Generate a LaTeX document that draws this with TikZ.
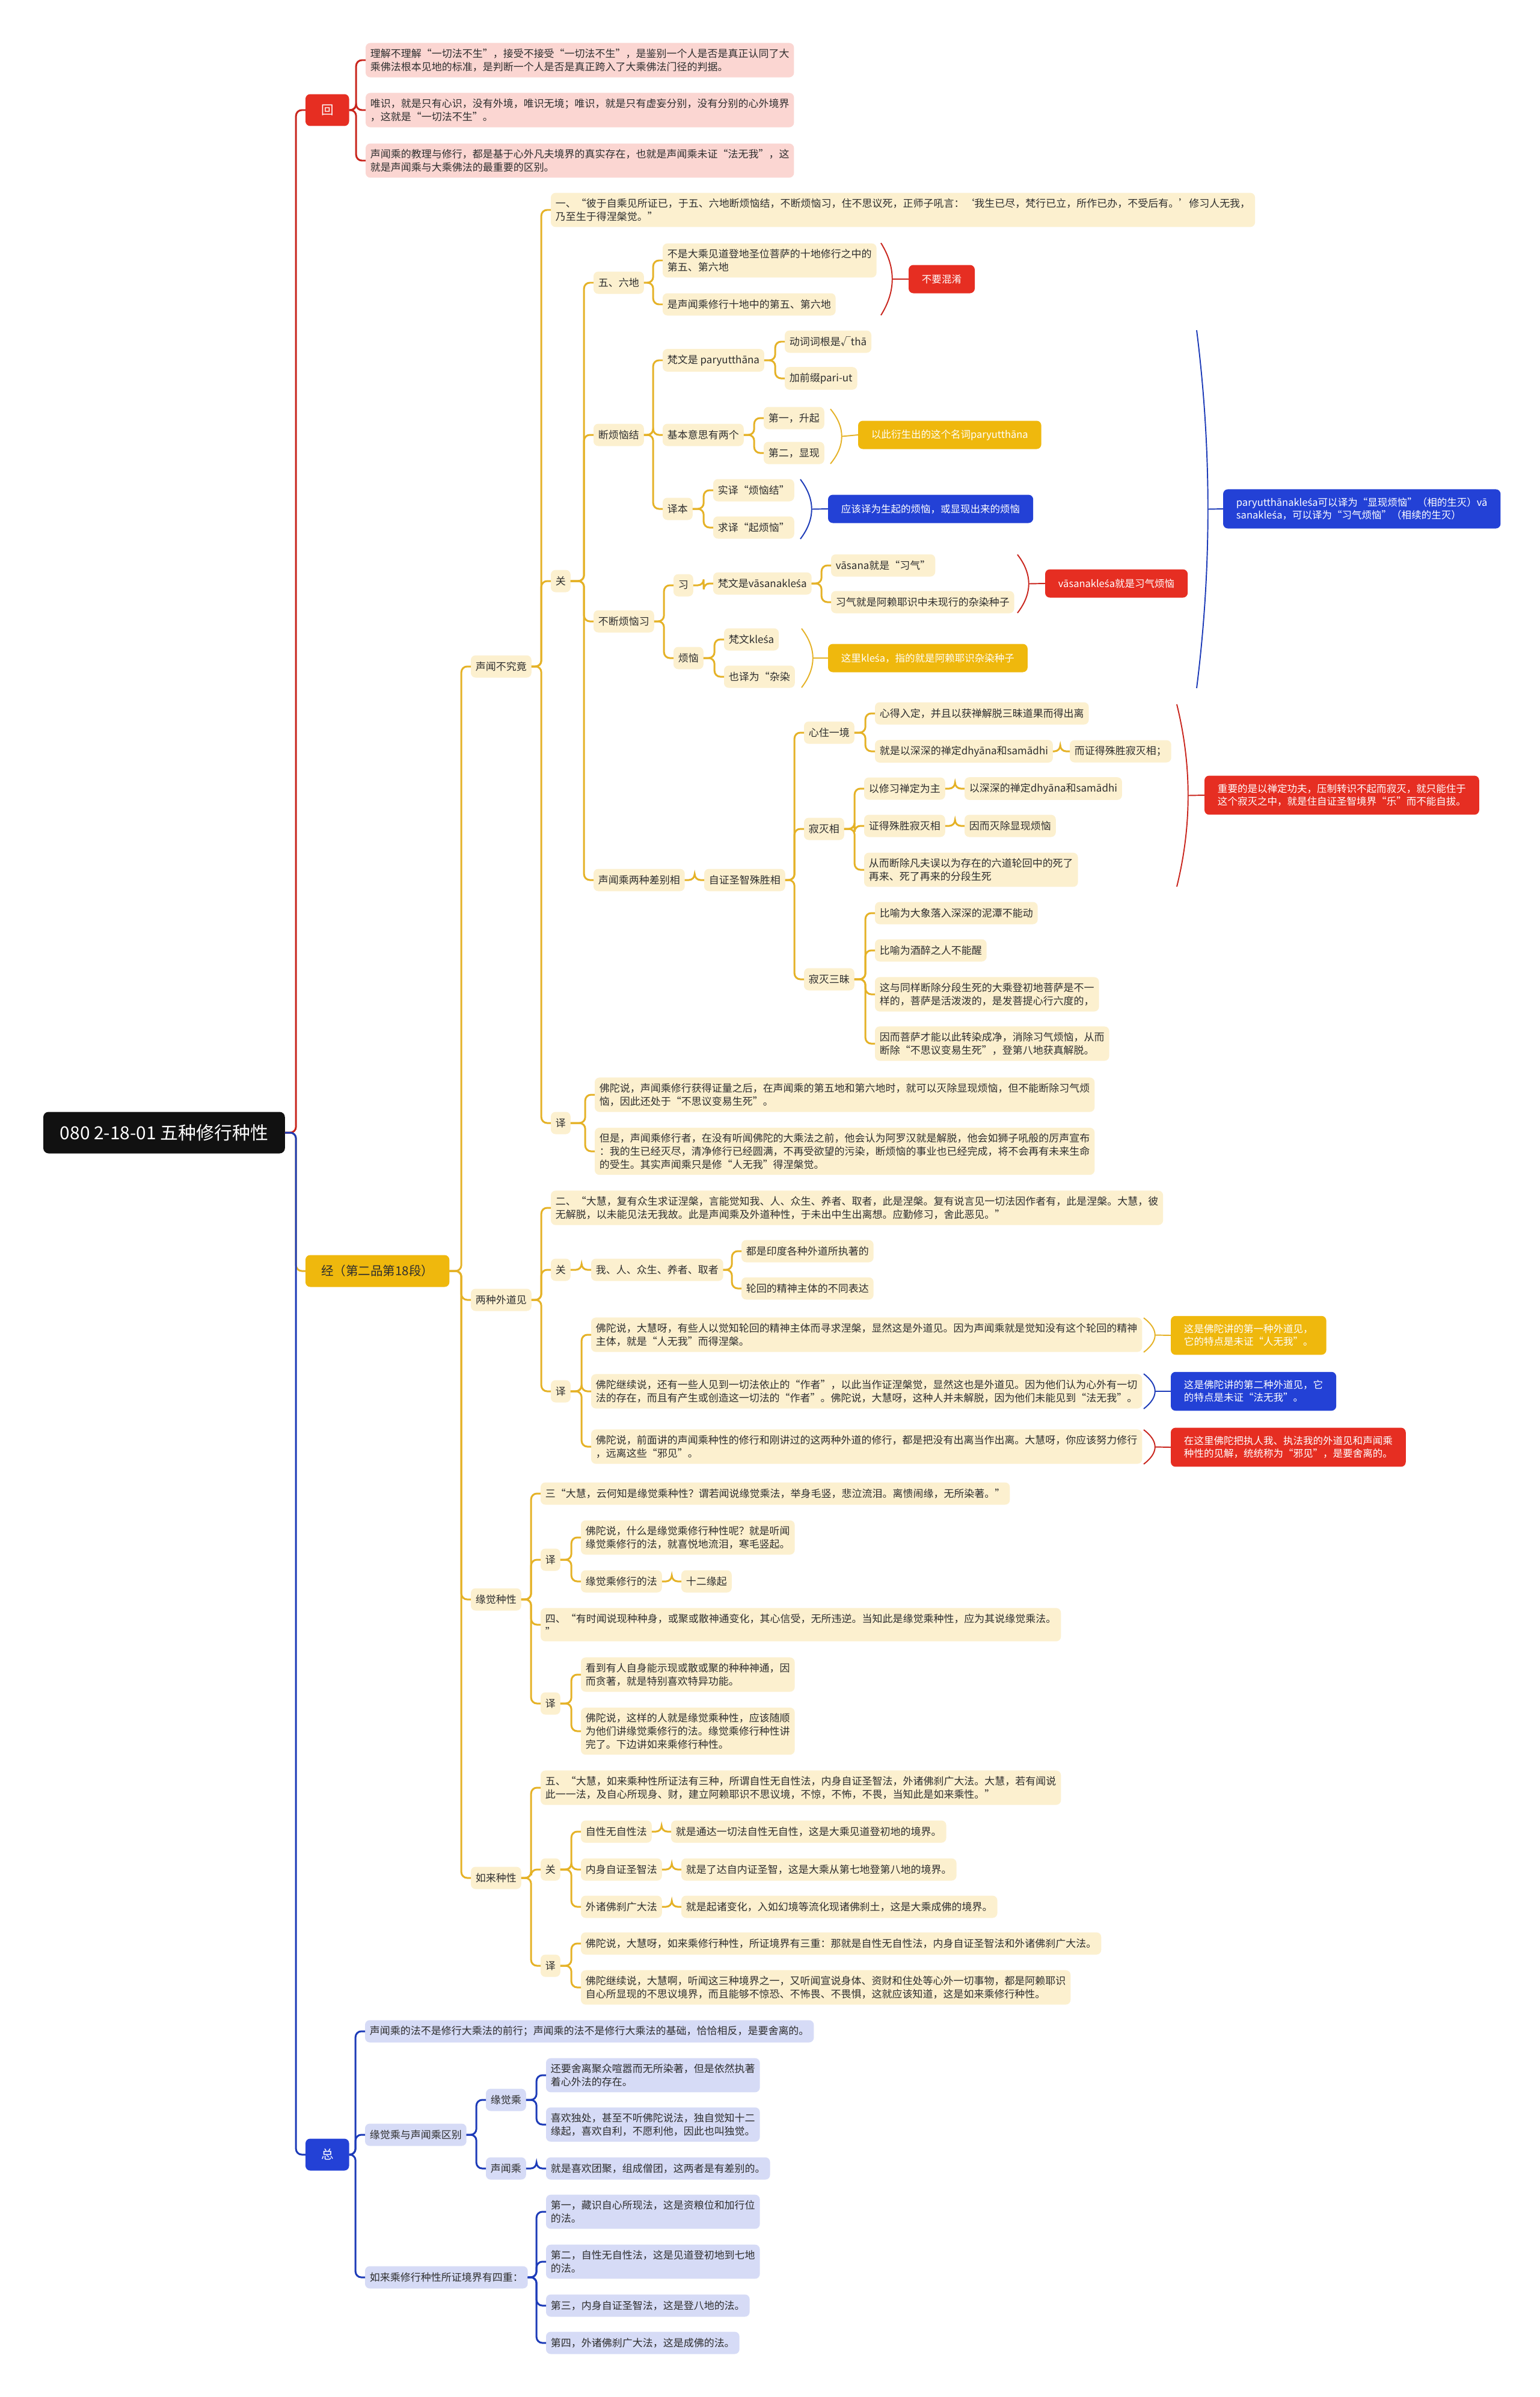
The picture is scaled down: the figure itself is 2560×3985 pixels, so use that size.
\documentclass[tikz,border=0pt]{standalone}
\usepackage{fontspec}
\setmainfont{Noto Sans CJK SC}
\newfontfamily\latinfont{Noto Sans}
\newcommand{\sac}{{\latinfont ś}}
\usetikzlibrary{calc}
\definecolor{croot}{HTML}{111111}
\definecolor{cred}{HTML}{E62E22}
\definecolor{cyel}{HTML}{EFB80D}
\definecolor{cblue}{HTML}{2341D6}
\definecolor{cpink}{HTML}{FBD6D2}
\definecolor{cleaf}{HTML}{FCF0CF}
\definecolor{clav}{HTML}{D6DBF6}
\definecolor{lred}{HTML}{C9261E}
\definecolor{lyel}{HTML}{E5B227}
\definecolor{lblue}{HTML}{1D3BB8}
\definecolor{ctext}{HTML}{2E2E2E}
\tikzset{
  every node/.style={outer sep=0pt},
  root/.style={fill=croot, text=white, rounded corners=5pt, anchor=west, inner xsep=15.9pt, minimum height=1.38cm, font=\fontsize{17}{19}\selectfont},
  head/.style={fill=#1, text=white, rounded corners=4.5pt, anchor=west, inner xsep=14.8pt, minimum height=1.06cm, font=\fontsize{11.7}{14}\selectfont},
  item/.style={fill=#1, text=ctext, rounded corners=4.5pt, anchor=west, align=left, inner xsep=4.5pt, inner ysep=5.5pt, minimum height=0.74cm, font=\fontsize{9.67}{12.3}\selectfont},
  item/.default=cleaf,
  tag/.style={fill=#1, text=white, rounded corners=4.5pt, anchor=west, align=left, inner xsep=12.5pt, inner ysep=8pt, minimum height=0.94cm, font=\fontsize{9.4}{12}\selectfont},
  link/.style={draw=#1, line width=1.7pt, rounded corners=5.5pt},
  brc/.style={draw=#1, line width=1.1pt},
}
% parent to children, bent at the parent's side
\newcommand{\branchto}[3]{\foreach \c in {#3} \draw[link=#1] (#2.east) -| ([xshift=-9pt]\c.west) -- (\c.west);}
% summary brace: colour, x, top, bottom, target
\newcommand{\grpbrace}[5]{%
  \draw[brc=#1] (#2,#3) .. controls +(25,{(#4-#3)/3}) and +(25,{-(#4-#3)/3}) .. (#2,#4);
  \draw[brc=#1] ({#2+19},{(#3+#4)/2}) -- (#5.west);}

\begin{document}
\begin{tikzpicture}[x=0.02cm, y=-0.02cm]
  \fill[white] (0,0) rectangle (2560,3985);
  \useasboundingbox (0,0) rectangle (2560,3985);
  % root and main topics
  \node[root] (root) at (72,1883) {080 2-18-01 五种修行种性};
  \node[head=cred] (hui) at (508,183) {回};
  \node[head=cyel, text=ctext] (jing) at (508,2113) {经（第二品第18段）};
  \node[head=cblue] (zong) at (508,3582) {总};
  % 回
  \node[item=cpink] (r1) at (608,100) {理解不理解“一切法不生”，接受不接受“一切法不生”，是鉴别一个人是否是真正认同了大\\乘佛法根本见地的标准，是判断一个人是否是真正跨入了大乘佛法门径的判据。};
  \node[item=cpink] (r2) at (608,183) {唯识，就是只有心识，没有外境，唯识无境；唯识，就是只有虚妄分别，没有分别的心外境界\\，这就是“一切法不生”。};
  \node[item=cpink] (r3) at (608,267) {声闻乘的教理与修行，都是基于心外凡夫境界的真实存在，也就是声闻乘未证“法无我”，这\\就是声闻乘与大乘佛法的最重要的区别。};
  % 经
  \node[item] (s1) at (783,1108) {声闻不究竟};
  \node[item] (s2) at (783,2161) {两种外道见};
  \node[item] (s3) at (783,2659) {缘觉种性};
  \node[item] (s4) at (783,3122) {如来种性};
  % 声闻不究竟
  \node[item] (q1) at (916,349) {一、“彼于自乘见所证已，于五、六地断烦恼结，不断烦恼习，住不思议死，正师子吼言：‘我生已尽，梵行已立，所作已办，不受后有。’修习人无我，\\乃至生于得涅槃觉。”};
  \node[item] (g1) at (916,966) {关};
  \node[item] (t1) at (916,1867) {译};
  \node[item] (wl) at (987,470) {五、六地};
  \node[item] (dj) at (987,723) {断烦恼结};
  \node[item] (bx) at (987,1033) {不断烦恼习};
  \node[item] (cb) at (987,1463) {声闻乘两种差别相};
  \node[item] (wl1) at (1102,433) {不是大乘见道登地圣位菩萨的十地修行之中的\\第五、第六地};
  \node[item] (wl2) at (1102,506) {是声闻乘修行十地中的第五、第六地};
  \node[tag=cred] (tg-mix) at (1511,464) {不要混淆};
  \node[item] (fw) at (1102,599) {梵文是 paryutthāna};
  \node[item] (jb) at (1102,723) {基本意思有两个};
  \node[item] (yb) at (1102,846) {译本};
  \node[item] (fw1) at (1305,568) {动词词根是√thā};
  \node[item] (fw2) at (1305,629) {加前缀pari-ut};
  \node[item] (jb1) at (1270,695) {第一，升起};
  \node[item] (jb2) at (1270,753) {第二，显现};
  \node[tag=cyel] (tg-par) at (1427,723) {以此衍生出的这个名词paryutthāna};
  \node[item] (yb1) at (1186,815) {实译“烦恼结”};
  \node[item] (yb2) at (1186,877) {求译“起烦恼”};
  \node[tag=cblue] (tg-yb) at (1377,846) {应该译为生起的烦恼，或显现出来的烦恼};
  \node[item] (xi) at (1120,973) {习};
  \node[item] (fn) at (1120,1094) {烦恼};
  \node[item] (xv) at (1186,970) {梵文是vāsanakle\sac a};
  \node[item] (xv1) at (1382,940) {vāsana就是“习气”};
  \node[item] (xv2) at (1382,1001) {习气就是阿赖耶识中未现行的杂染种子};
  \node[tag=cred] (tg-vas) at (1738,970) {vāsanakle\sac a就是习气烦恼};
  \node[item] (fn1) at (1204,1063) {梵文kle\sac a};
  \node[item] (fn2) at (1204,1125) {也译为“杂染};
  \node[tag=cyel] (tg-kl) at (1377,1094) {这里kle\sac a，指的就是阿赖耶识杂染种子};
  \node[tag=cblue] (tg-two) at (2034,846) {paryutthānakle\sac a可以译为“显现烦恼”（相的生灭）vā\\sanakle\sac a，可以译为“习气烦恼”（相续的生灭）};
  \node[item] (zz) at (1171,1463) {自证圣智殊胜相};
  \node[item] (xz) at (1337,1218) {心住一境};
  \node[item] (jm) at (1337,1378) {寂灭相};
  \node[item] (js) at (1337,1628) {寂灭三昧};
  \node[item] (xz1) at (1455,1186) {心得入定，并且以获禅解脱三昧道果而得出离};
  \node[item] (xz2) at (1455,1249) {就是以深深的禅定dhyāna和samādhi};
  \node[item] (xz3) at (1779,1249) {而证得殊胜寂灭相；};
  \node[item] (jm1) at (1437,1311) {以修习禅定为主};
  \node[item] (jm1b) at (1604,1311) {以深深的禅定dhyāna和samādhi};
  \node[item] (jm2) at (1437,1373) {证得殊胜寂灭相};
  \node[item] (jm2b) at (1604,1373) {因而灭除显现烦恼};
  \node[item] (jm3) at (1437,1446) {从而断除凡夫误以为存在的六道轮回中的死了\\再来、死了再来的分段生死};
  \node[tag=cred] (tg-jm) at (2003,1322) {重要的是以禅定功夫，压制转识不起而寂灭，就只能住于\\这个寂灭之中，就是住自证圣智境界“乐”而不能自拔。};
  \node[item] (js1) at (1455,1518) {比喻为大象落入深深的泥潭不能动};
  \node[item] (js2) at (1455,1580) {比喻为酒醉之人不能醒};
  \node[item] (js3) at (1455,1653) {这与同样断除分段生死的大乘登初地菩萨是不一\\样的，菩萨是活泼泼的，是发菩提心行六度的，};
  \node[item] (js4) at (1455,1735) {因而菩萨才能以此转染成净，消除习气烦恼，从而\\断除“不思议变易生死”，登第八地获真解脱。};
  \node[item] (t1a) at (989,1820) {佛陀说，声闻乘修行获得证量之后，在声闻乘的第五地和第六地时，就可以灭除显现烦恼，但不能断除习气烦\\恼，因此还处于“不思议变易生死”。};
  \node[item] (t1b) at (989,1914) {但是，声闻乘修行者，在没有听闻佛陀的大乘法之前，他会认为阿罗汉就是解脱，他会如狮子吼般的厉声宣布\\：我的生已经灭尽，清净修行已经圆满，不再受欲望的污染，断烦恼的事业也已经完成，将不会再有未来生命\\的受生。其实声闻乘只是修“人无我”得涅槃觉。};
  % 两种外道见
  \node[item] (q2) at (916,2008) {二、“大慧，复有众生求证涅槃，言能觉知我、人、众生、养者、取者，此是涅槃。复有说言见一切法因作者有，此是涅槃。大慧，彼\\无解脱，以未能见法无我故。此是声闻乘及外道种性，于未出中生出离想。应勤修习，舍此恶见。”};
  \node[item] (g2) at (916,2111) {关};
  \node[item] (t2) at (916,2313) {译};
  \node[item] (wr) at (983,2111) {我、人、众生、养者、取者};
  \node[item] (wr1) at (1233,2080) {都是印度各种外道所执著的};
  \node[item] (wr2) at (1233,2142) {轮回的精神主体的不同表达};
  \node[item] (y1) at (983,2219) {佛陀说，大慧呀，有些人以觉知轮回的精神主体而寻求涅槃，显然这是外道见。因为声闻乘就是觉知没有这个轮回的精神\\主体，就是“人无我”而得涅槃。};
  \node[item] (y2) at (983,2313) {佛陀继续说，还有一些人见到一切法依止的“作者”，以此当作证涅槃觉，显然这也是外道见。因为他们认为心外有一切\\法的存在，而且有产生或创造这一切法的“作者”。佛陀说，大慧呀，这种人并未解脱，因为他们未能见到“法无我”。};
  \node[item] (y3) at (983,2405) {佛陀说，前面讲的声闻乘种性的修行和刚讲过的这两种外道的修行，都是把没有出离当作出离。大慧呀，你应该努力修行\\，远离这些“邪见”。};
  \node[tag=cyel] (tg-y1) at (1947,2220) {这是佛陀讲的第一种外道见，\\它的特点是未证“人无我”。};
  \node[tag=cblue] (tg-y2) at (1947,2313) {这是佛陀讲的第二种外道见，它\\的特点是未证“法无我”。};
  \node[tag=cred] (tg-y3) at (1947,2406) {在这里佛陀把执人我、执法我的外道见和声闻乘\\种性的见解，统统称为“邪见”，是要舍离的。};
  % 缘觉种性
  \node[item] (q3) at (899,2483) {三“大慧，云何知是缘觉乘种性？谓若闻说缘觉乘法，举身毛竖，悲泣流泪。离愦闹缘，无所染著。”};
  \node[item] (t3) at (899,2593) {译};
  \node[item] (q4) at (899,2701) {四、“有时闻说现种种身，或聚或散神通变化，其心信受，无所违逆。当知此是缘觉乘种性，应为其说缘觉乘法。\\”};
  \node[item] (t4) at (899,2832) {译};
  \node[item] (t3a) at (966,2556) {佛陀说，什么是缘觉乘修行种性呢？就是听闻\\缘觉乘修行的法，就喜悦地流泪，寒毛竖起。};
  \node[item] (t3b) at (966,2629) {缘觉乘修行的法};
  \node[item] (t3c) at (1133,2629) {十二缘起};
  \node[item] (t4a) at (966,2784) {看到有人自身能示现或散或聚的种种神通，因\\而贪著，就是特别喜欢特异功能。};
  \node[item] (t4b) at (966,2878) {佛陀说，这样的人就是缘觉乘种性，应该随顺\\为他们讲缘觉乘修行的法。缘觉乘修行种性讲\\完了。下边讲如来乘修行种性。};
  % 如来种性
  \node[item] (q5) at (899,2972) {五、“大慧，如来乘种性所证法有三种，所谓自性无自性法，内身自证圣智法，外诸佛刹广大法。大慧，若有闻说\\此一一法，及自心所现身、财，建立阿赖耶识不思议境，不惊，不怖，不畏，当知此是如来乘性。”};
  \node[item] (g4) at (899,3108) {关};
  \node[item] (t5) at (899,3268) {译};
  \node[item] (zx) at (966,3045) {自性无自性法};
  \node[item] (zx1) at (1116,3045) {就是通达一切法自性无自性，这是大乘见道登初地的境界。};
  \node[item] (ns) at (966,3108) {内身自证圣智法};
  \node[item] (ns1) at (1133,3108) {就是了达自内证圣智，这是大乘从第七地登第八地的境界。};
  \node[item] (wz) at (966,3170) {外诸佛刹广大法};
  \node[item] (wz1) at (1133,3170) {就是起诸变化，入如幻境等流化现诸佛刹土，这是大乘成佛的境界。};
  \node[item] (t5a) at (966,3231) {佛陀说，大慧呀，如来乘修行种性，所证境界有三重：那就是自性无自性法，内身自证圣智法和外诸佛刹广大法。};
  \node[item] (t5b) at (966,3304) {佛陀继续说，大慧啊，听闻这三种境界之一，又听闻宣说身体、资财和住处等心外一切事物，都是阿赖耶识\\自心所显现的不思议境界，而且能够不惊恐、不怖畏、不畏惧，这就应该知道，这是如来乘修行种性。};
  % 总
  \node[item=clav] (z1) at (607,3377) {声闻乘的法不是修行大乘法的前行；声闻乘的法不是修行大乘法的基础，恰恰相反，是要舍离的。};
  \node[item=clav] (z2) at (607,3549) {缘觉乘与声闻乘区别};
  \node[item=clav] (z3) at (607,3786) {如来乘修行种性所证境界有四重：};
  \node[item=clav] (yj) at (808,3491) {缘觉乘};
  \node[item=clav] (sw) at (808,3605) {声闻乘};
  \node[item=clav] (yj1) at (908,3450) {还要舍离聚众喧嚣而无所染著，但是依然执著\\着心外法的存在。};
  \node[item=clav] (yj2) at (908,3532) {喜欢独处，甚至不听佛陀说法，独自觉知十二\\缘起，喜欢自利，不愿利他，因此也叫独觉。};
  \node[item=clav] (sw1) at (908,3605) {就是喜欢团聚，组成僧团，这两者是有差别的。};
  \node[item=clav] (d1) at (908,3677) {第一，藏识自心所现法，这是资粮位和加行位\\的法。};
  \node[item=clav] (d2) at (908,3760) {第二，自性无自性法，这是见道登初地到七地\\的法。};
  \node[item=clav] (d3) at (908,3833) {第三，内身自证圣智法，这是登八地的法。};
  \node[item=clav] (d4) at (908,3895) {第四，外诸佛刹广大法，这是成佛的法。};
  % connectors
  \branchto{lyel}{root}{jing}
  \branchto{lred}{root}{hui}
  \branchto{lblue}{root}{zong}
  \branchto{lred}{hui}{r1,r2,r3}
  \branchto{lyel}{jing}{s1,s2,s3,s4}
  \branchto{lyel}{s1}{q1,g1,t1}
  \branchto{lyel}{g1}{wl,dj,bx,cb}
  \branchto{lyel}{wl}{wl1,wl2}
  \branchto{lyel}{dj}{fw,jb,yb}
  \branchto{lyel}{fw}{fw1,fw2}
  \branchto{lyel}{jb}{jb1,jb2}
  \branchto{lyel}{yb}{yb1,yb2}
  \branchto{lyel}{bx}{xi,fn}
  \branchto{lyel}{xi}{xv}
  \branchto{lyel}{xv}{xv1,xv2}
  \branchto{lyel}{fn}{fn1,fn2}
  \branchto{lyel}{cb}{zz}
  \branchto{lyel}{zz}{xz,jm,js}
  \branchto{lyel}{xz}{xz1,xz2}
  \branchto{lyel}{xz2}{xz3}
  \branchto{lyel}{jm}{jm1,jm2,jm3}
  \branchto{lyel}{jm1}{jm1b}
  \branchto{lyel}{jm2}{jm2b}
  \branchto{lyel}{js}{js1,js2,js3,js4}
  \branchto{lyel}{t1}{t1a,t1b}
  \branchto{lyel}{s2}{q2,g2,t2}
  \branchto{lyel}{g2}{wr}
  \branchto{lyel}{wr}{wr1,wr2}
  \branchto{lyel}{t2}{y1,y2,y3}
  \branchto{lyel}{s3}{q3,t3,q4,t4}
  \branchto{lyel}{t3}{t3a,t3b}
  \branchto{lyel}{t3b}{t3c}
  \branchto{lyel}{t4}{t4a,t4b}
  \branchto{lyel}{s4}{q5,g4,t5}
  \branchto{lyel}{g4}{zx,ns,wz}
  \branchto{lyel}{zx}{zx1}
  \branchto{lyel}{ns}{ns1}
  \branchto{lyel}{wz}{wz1}
  \branchto{lyel}{t5}{t5a,t5b}
  \branchto{lblue}{zong}{z1,z2,z3}
  \branchto{lblue}{z2}{yj,sw}
  \branchto{lblue}{yj}{yj1,yj2}
  \branchto{lblue}{sw}{sw1}
  \branchto{lblue}{z3}{d1,d2,d3,d4}
  % summary braces
  \grpbrace{lred}{1465}{404}{524}{tg-mix}
  \grpbrace{lyel}{1381}{680}{771}{tg-par}
  \grpbrace{lblue}{1331}{797}{896}{tg-yb}
  \grpbrace{lred}{1692}{922}{1019}{tg-vas}
  \grpbrace{lyel}{1333}{1045}{1143}{tg-kl}
  \grpbrace{lblue}{1990}{549}{1144}{tg-two}
  \grpbrace{lred}{1957}{1171}{1474}{tg-jm}
  \grpbrace{lyel}{1902}{2191}{2248}{tg-y1}
  \grpbrace{lblue}{1902}{2284}{2342}{tg-y2}
  \grpbrace{lred}{1902}{2377}{2434}{tg-y3}
\end{tikzpicture}
\end{document}
